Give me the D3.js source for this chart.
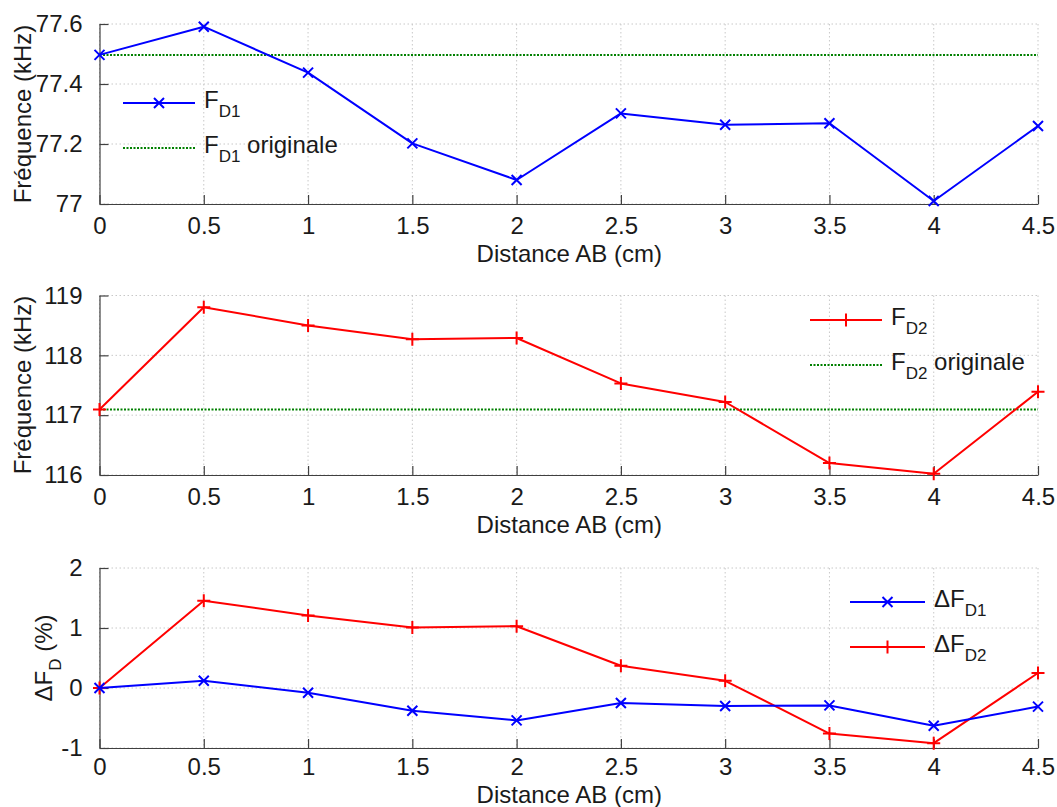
<!DOCTYPE html>
<html>
<head>
<meta charset="utf-8">
<script src="https://cdn.jsdelivr.net/npm/d3@7"></script>
<style>
  html, body { margin: 0; padding: 0; background: #fff; }
  svg { display: block; font-family: "Liberation Sans", Arial, sans-serif; }
</style>
</head>
<body>
<svg id="chart" width="1057" height="807"></svg>
<script>
// ---------- data ----------
const distances = [0, 0.5, 1, 1.5, 2, 2.5, 3, 3.5, 4, 4.5];
const fd1 = [77.497, 77.591, 77.438, 77.202, 77.080, 77.302, 77.264, 77.269, 77.010, 77.260];
const fd1Original = 77.497;
const fd2 = [117.095, 118.805, 118.50, 118.27, 118.29, 117.53, 117.22, 116.20, 116.02, 117.39];
const fd2Original = 117.095;
const dfd1 = [0, 0.12, -0.08, -0.38, -0.54, -0.25, -0.30, -0.29, -0.63, -0.31];
const dfd2 = [0, 1.455, 1.21, 1.01, 1.03, 0.37, 0.12, -0.76, -0.92, 0.25];

const xTicks = [0, 0.5, 1, 1.5, 2, 2.5, 3, 3.5, 4, 4.5];
const yTicksTop = [77, 77.2, 77.4, 77.6];
const yTicksMid = [116, 117, 118, 119];
const yTicksBot = [-1, 0, 1, 2];

const xLabel = "Distance AB (cm)";
const yLabelFreq = "Fréquence (kHz)";

// ---------- layout ----------
const svg = d3.select("#chart");
const X0 = 99.5, X1 = 1038;
const FS = 24;           // main font size
const SUB = 17;          // subscript font size
const BLUE = "#0000ff", RED = "#ff0000", GREEN = "#008000";
const fmt = d => String(+d.toFixed(3));   // plain hyphen-minus like the reference

const x = d3.scaleLinear().domain([0, 4.5]).range([X0, X1]);

function panel(opts) {
  const y = d3.scaleLinear().domain(opts.yDomain).range([opts.bottom, opts.top]);
  const g = svg.append("g");

  // grid
  g.append("g").selectAll("line").data(xTicks).join("line")
    .attr("x1", d => x(d)).attr("x2", d => x(d))
    .attr("y1", opts.top).attr("y2", opts.bottom)
    .attr("stroke", "#c8c8c8").attr("stroke-width", 1)
    .attr("stroke-dasharray", "1.5,2.5");
  g.append("g").selectAll("line").data(opts.yTicks).join("line")
    .attr("x1", X0).attr("x2", X1)
    .attr("y1", d => y(d)).attr("y2", d => y(d))
    .attr("stroke", "#c8c8c8").attr("stroke-width", 1)
    .attr("stroke-dasharray", "1.5,2.5");

  // axes (d3 axes with inward ticks)
  const xAxis = d3.axisBottom(x).tickValues(xTicks).tickSizeInner(-9).tickSizeOuter(0)
    .tickPadding(22).tickFormat(fmt);
  const xa = g.append("g").attr("transform", `translate(0,${opts.bottom})`).call(xAxis);
  const yAxis = d3.axisLeft(y).tickValues(opts.yTicks).tickSizeInner(-9).tickSizeOuter(0)
    .tickPadding(17).tickFormat(fmt);
  const ya = g.append("g").attr("transform", `translate(${X0},0)`).call(yAxis);
  [xa, ya].forEach(a => {
    a.select(".domain").attr("stroke", "#404040").attr("stroke-width", 1.2);
    a.selectAll(".tick line").attr("stroke", "#404040").attr("stroke-width", 1.2);
    a.selectAll(".tick text").attr("font-size", FS).attr("fill", "#1a1a1a")
      .attr("font-family", "'Liberation Sans', Arial, sans-serif");
  });
  xa.selectAll(".tick text").attr("dy", "0.32em").attr("y", opts.tickY || 22);

  // x label
  g.append("text").attr("x", (X0 + X1) / 2 + 0.5).attr("y", opts.bottom + (opts.labelOff || 58))
    .attr("text-anchor", "middle").attr("font-size", FS).attr("fill", "#1a1a1a")
    .text(xLabel);

  return { g, y };
}

function drawLine(g, y, values, color) {
  const line = d3.line().x((d, i) => x(distances[i])).y(d => y(d));
  g.append("path").datum(values).attr("d", line)
    .attr("fill", "none").attr("stroke", color).attr("stroke-width", 2)
    .attr("stroke-linejoin", "round");
}
function markerX(sel, cx, cy, color) {
  const s = 5;
  sel.append("path").attr("d", `M${cx - s},${cy - s}L${cx + s},${cy + s}M${cx - s},${cy + s}L${cx + s},${cy - s}`)
    .attr("stroke", color).attr("stroke-width", 2).attr("fill", "none");
}
function markerPlus(sel, cx, cy, color) {
  const s = 6.5;
  sel.append("path").attr("d", `M${cx - s},${cy}L${cx + s},${cy}M${cx},${cy - s}L${cx},${cy + s}`)
    .attr("stroke", color).attr("stroke-width", 2).attr("fill", "none");
}
function drawMarkers(g, y, values, color, kind) {
  values.forEach((v, i) => {
    if (kind === "x") markerX(g, x(distances[i]), y(v), color);
    else markerPlus(g, x(distances[i]), y(v), color);
  });
}
function hline(g, y, value, color) {
  g.append("line").attr("x1", X0).attr("x2", X1).attr("y1", y(value)).attr("y2", y(value))
    .attr("stroke", color).attr("stroke-width", 2).attr("stroke-dasharray", "2,1.5");
}
// text with subscript: parts = [[text, isSub], ...]
function richText(g, tx, ty, parts, anchor) {
  const t = g.append("text").attr("x", tx).attr("y", ty).attr("font-size", FS)
    .attr("fill", "#1a1a1a").attr("text-anchor", anchor || "start");
  let shifted = false;
  parts.forEach(([s, sub]) => {
    const ts = t.append("tspan").text(s);
    if (sub && !shifted) { ts.attr("font-size", SUB).attr("dy", 9); shifted = true; }
    else if (!sub && shifted) { ts.attr("dy", -9); shifted = false; }
    else if (sub) ts.attr("font-size", SUB);
  });
  return t;
}
function legendEntry(g, lx0, lx1, ly, color, kind, parts) {
  if (kind === "dotted") {
    g.append("line").attr("x1", lx0).attr("x2", lx1).attr("y1", ly).attr("y2", ly)
      .attr("stroke", color).attr("stroke-width", 2).attr("stroke-dasharray", "2,1.5");
  } else {
    g.append("line").attr("x1", lx0).attr("x2", lx1).attr("y1", ly).attr("y2", ly)
      .attr("stroke", color).attr("stroke-width", 2);
    if (kind === "x") markerX(g, (lx0 + lx1) / 2, ly, color);
    else markerPlus(g, (lx0 + lx1) / 2, ly, color);
  }
  richText(g, lx1 + 9, ly + 5, parts);
}

// ---------- top panel ----------
const p1 = panel({ top: 24, bottom: 204, yDomain: [77, 77.6], yTicks: yTicksTop });
hline(p1.g, p1.y, fd1Original, GREEN);
drawLine(p1.g, p1.y, fd1, BLUE);
drawMarkers(p1.g, p1.y, fd1, BLUE, "x");
legendEntry(p1.g, 123, 195, 103, BLUE, "x", [["F", false], ["D1", true]]);
legendEntry(p1.g, 123, 195, 148, GREEN, "dotted", [["F", false], ["D1", true], [" originale", false]]);
p1.g.append("text").attr("transform", `translate(31,114) rotate(-90)`)
  .attr("text-anchor", "middle").attr("font-size", FS).attr("fill", "#1a1a1a").text(yLabelFreq);

// ---------- middle panel ----------
const p2 = panel({ top: 295.5, bottom: 475, yDomain: [116, 119], yTicks: yTicksMid });
hline(p2.g, p2.y, fd2Original, GREEN);
drawLine(p2.g, p2.y, fd2, RED);
drawMarkers(p2.g, p2.y, fd2, RED, "+");
legendEntry(p2.g, 810, 882, 320, RED, "+", [["F", false], ["D2", true]]);
legendEntry(p2.g, 810, 882, 365, GREEN, "dotted", [["F", false], ["D2", true], [" originale", false]]);
p2.g.append("text").attr("transform", `translate(31,385) rotate(-90)`)
  .attr("text-anchor", "middle").attr("font-size", FS).attr("fill", "#1a1a1a").text(yLabelFreq);

// ---------- bottom panel ----------
const p3 = panel({ top: 568, bottom: 748, yDomain: [-1, 2], yTicks: yTicksBot, labelOff: 54.5, tickY: 19.5 });
drawLine(p3.g, p3.y, dfd2, RED);
drawMarkers(p3.g, p3.y, dfd2, RED, "+");
drawLine(p3.g, p3.y, dfd1, BLUE);
drawMarkers(p3.g, p3.y, dfd1, BLUE, "x");
legendEntry(p3.g, 850, 925, 602, BLUE, "x", [["ΔF", false], ["D1", true]]);
legendEntry(p3.g, 850, 925, 647, RED, "+", [["ΔF", false], ["D2", true]]);
const yl3 = p3.g.append("g").attr("transform", `translate(52,658) rotate(-90)`);
richText(yl3, 0, 0, [["ΔF", false], ["D", true], [" (%)", false]], "middle");
</script>
</body>
</html>
